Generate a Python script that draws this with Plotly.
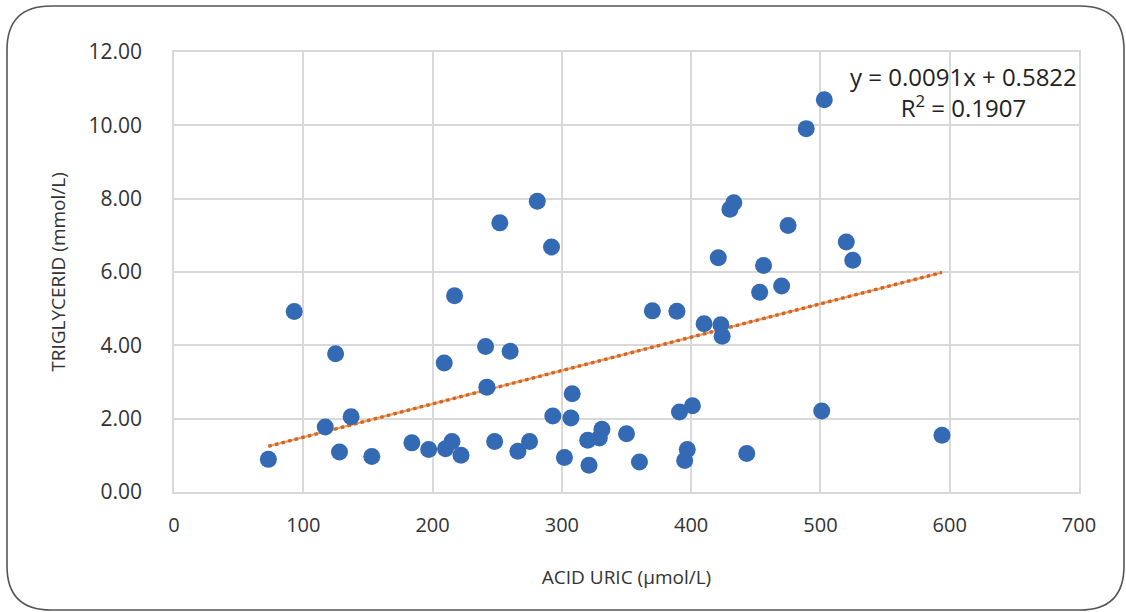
import numpy as np
import plotly.graph_objects as go

# Scatter data: uric acid (µmol/L) vs triglyceride (mmol/L)
acid_uric = [
    73, 93, 117, 125, 128, 137, 153, 184, 197, 209, 210, 215, 217, 222,
    241, 242, 248, 252, 260, 266, 275, 281, 292, 293, 302, 307, 308, 320,
    321, 329, 331, 350, 360, 370, 389, 391, 395, 397, 401, 410, 421, 423,
    424, 430, 433, 443, 453, 456, 470, 475, 489, 503, 501, 520, 525, 594,
]
triglycerid = [
    0.89, 4.92, 1.77, 3.77, 1.09, 2.05, 0.97, 1.34, 1.16, 3.52, 1.18, 1.38, 5.35, 1.00,
    3.97, 2.86, 1.38, 7.34, 3.84, 1.11, 1.38, 7.93, 6.68, 2.07, 0.94, 2.02, 2.68, 1.41,
    0.73, 1.47, 1.71, 1.59, 0.82, 4.94, 4.93, 2.18, 0.86, 1.16, 2.35, 4.59, 6.39, 4.56,
    4.25, 7.71, 7.89, 1.05, 5.45, 6.18, 5.62, 7.27, 9.91, 10.70, 2.21, 6.82, 6.32, 1.55,
]

# linear trendline as printed on the chart
slope, intercept, r2 = 0.0091, 0.5822, 0.1907

x_ticks = [0, 100, 200, 300, 400, 500, 600, 700]
y_ticks = [0, 2, 4, 6, 8, 10, 12]

FONT = 'Open Sans, Noto Sans, sans-serif'
TXT = '#333333'
GRID = '#d9d9d9'

# plot area placement in pixels (1126 x 612 page)
L, R, T, B = 174, 47, 52, 120
W, H = 1126, 612
PW, PH = W - L - R, H - T - B


def px(x, y):
    """pixel -> paper coords"""
    return (x - L) / PW, (H - B - y) / PH


fig = go.Figure()

# trendline over the data range (solid line + round dots, Excel style)
tx = np.array([min(acid_uric), max(acid_uric)])
ty = slope * tx + intercept
fig.add_trace(go.Scatter(
    x=tx, y=ty, mode='lines',
    line=dict(color='#ee9a62', width=2.2),
    hoverinfo='skip', showlegend=False,
))
fig.add_trace(go.Scatter(
    x=tx, y=ty, mode='lines',
    line=dict(color='#cf6626', width=3.4, dash='dot'),
    hoverinfo='skip', showlegend=False,
))

fig.add_trace(go.Scatter(
    x=acid_uric, y=triglycerid, mode='markers',
    marker=dict(size=17, color='#3469b4', line=dict(width=0)),
    showlegend=False,
))

# equation label
x0, y0 = px(963, 92)
fig.add_annotation(
    x=x0, y=y0, xref='paper', yref='paper', showarrow=False,
    xanchor='center', yanchor='middle',
    text=f'y = {slope}x + {intercept}<br>R<sup>2</sup> = {r2}',
    align='center', font=dict(family=FONT, size=24, color='#222222'),
)

# rounded outer frame
lft, top, rgt, bot, rad = 7, 6, 1124, 610, 44
pts = {
    'a': px(lft + rad, top), 'b': px(rgt - rad, top), 'c': px(rgt, top),
    'd': px(rgt, top + rad), 'e': px(rgt, bot - rad), 'f': px(rgt, bot),
    'g': px(rgt - rad, bot), 'h': px(lft + rad, bot), 'i': px(lft, bot),
    'j': px(lft, bot - rad), 'k': px(lft, top + rad), 'l': px(lft, top),
}
p = lambda k: f'{pts[k][0]:.5f},{pts[k][1]:.5f}'
path = (f'M {p("a")} L {p("b")} Q {p("c")} {p("d")} L {p("e")} Q {p("f")} {p("g")} '
        f'L {p("h")} Q {p("i")} {p("j")} L {p("k")} Q {p("l")} {p("a")} Z')
fig.add_shape(type='path', path=path, xref='paper', yref='paper',
              line=dict(color='#555555', width=1.6), layer='below')

fig.update_layout(
    width=W, height=H,
    margin=dict(l=L, r=R, t=T, b=B, autoexpand=False),
    paper_bgcolor='white', plot_bgcolor='white',
    font=dict(family=FONT, color=TXT),
    xaxis=dict(
        range=[0, 700], tickvals=x_ticks, ticktext=[str(v) for v in x_ticks],
        showgrid=True, gridcolor=GRID, gridwidth=1.5,
        zeroline=False, showline=True, linecolor=GRID, linewidth=1.5, mirror=True,
        ticks='', ticklabelstandoff=14,
        tickfont=dict(family=FONT, size=20, color=TXT),
        title=dict(text='ACID URIC (µmol/L)', standoff=34,
                   font=dict(family=FONT, size=19, color=TXT)),
    ),
    yaxis=dict(
        range=[0, 12], tickvals=y_ticks, ticktext=[f'{v:.2f}' for v in y_ticks],
        showgrid=True, gridcolor=GRID, gridwidth=1.5,
        zeroline=False, showline=True, linecolor=GRID, linewidth=1.5, mirror=True,
        ticks='', ticklabelstandoff=26,
        tickfont=dict(family=FONT, size=21, color=TXT),
        title=dict(text='TRIGLYCERID (mmol/L)', standoff=18,
                   font=dict(family=FONT, size=19, color=TXT)),
    ),
)

# drop the default body margin so the figure sits at the page origin
fig.write_html('out.html', config={'displayModeBar': False},
               post_script="document.body.style.margin='0';")
